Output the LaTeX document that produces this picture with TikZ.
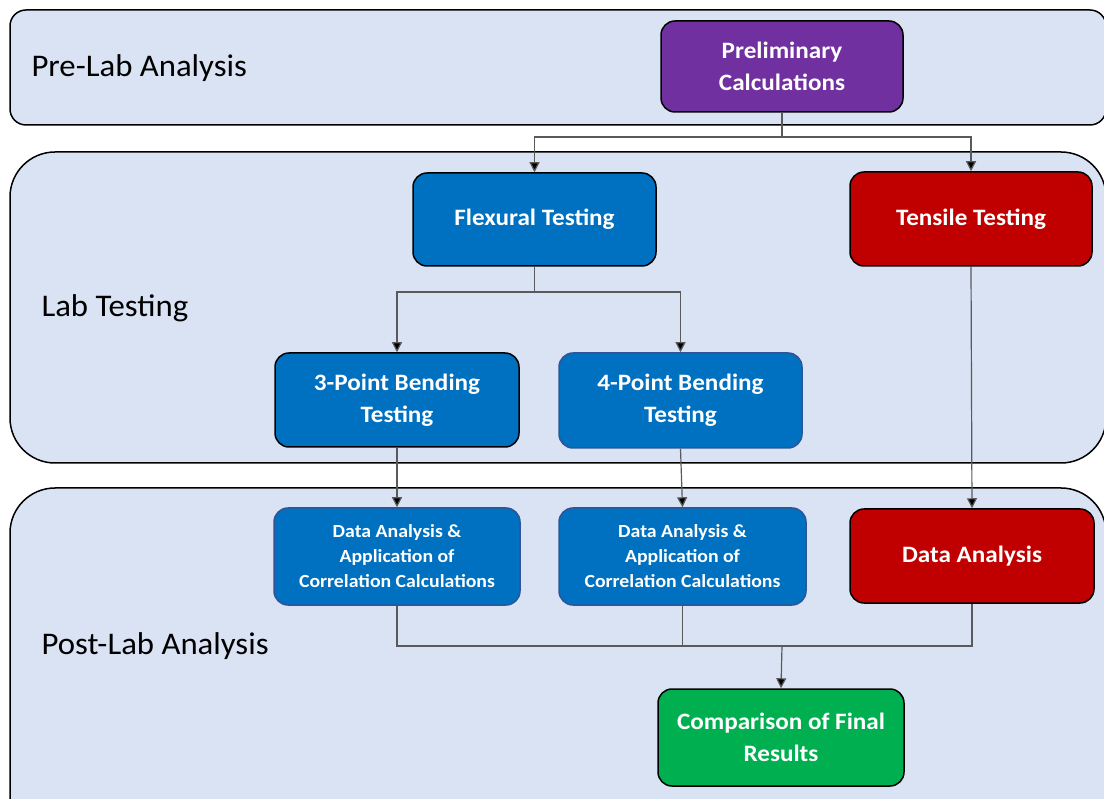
\documentclass[tikz,border=0pt]{standalone}
\usepackage{fontspec}
\setmainfont{Carlito}
\newfontfamily\widereg[FakeStretch=1.04]{Carlito}
\newfontfamily\widebold[FakeStretch=1.07]{Carlito Bold}
\usetikzlibrary{arrows.meta}
\definecolor{bandfill}{HTML}{DAE3F3}
\definecolor{cpurple}{HTML}{7030A0}
\definecolor{cblue}{HTML}{0070C0}
\definecolor{cred}{HTML}{C00000}
\definecolor{cgreen}{HTML}{00B050}
\definecolor{cblueedge}{HTML}{2F5597}
\definecolor{conn}{HTML}{5A5A5A}
\tikzset{
  band/.style={draw=black, line width=1.5pt, fill=bandfill},
  bandlabel/.style={anchor=west, font=\widereg\fontsize{31.5}{34}\selectfont},
  proc/.style={draw=black, line width=1.5pt, rounded corners=14pt, text=white,
    font=\widebold\fontsize{23.5}{32}\selectfont, align=center, inner sep=0pt},
  small/.style={font=\widebold\fontsize{18.5}{25}\selectfont},
  conline/.style={draw=conn, line width=1.2pt},
  arr/.style={conline, -{Triangle[width=10pt,length=10pt,fill=black]}},
}
\begin{document}
\begin{tikzpicture}[x=1pt,y=-1pt]
\useasboundingbox (0,0) rectangle (1104,799);
\clip (0,0) rectangle (1104,799);
% bands
\draw[band, rounded corners=16pt] (10,10) rectangle (1106,125);
\draw[band, rounded corners=45pt] (10,152) rectangle (1106,463);
\draw[band, rounded corners=45pt] (10,488) rectangle (1106,840);
\node[bandlabel] (l1) at (28,68) {Pre-Lab Analysis};
\node[bandlabel] (l2) at (38,308) {Lab Testing};
\node[bandlabel] (l3) at (38,646) {Post-Lab Analysis};
% boxes
\node[proc, fill=cpurple, minimum width=242pt, minimum height=91pt] (pre) at (782,66.5) {Preliminary\\Calculations};
\node[proc, fill=cblue, minimum width=243pt, minimum height=93pt] (flex) at (534.5,219.5) {Flexural Testing};
\node[proc, fill=cred, minimum width=242pt, minimum height=94pt] (ten) at (971,219) {Tensile Testing};
\node[proc, fill=cblue, minimum width=244pt, minimum height=94pt] (p3) at (397,400) {3-Point Bending\\Testing};
\node[proc, fill=cblue, draw=cblueedge, minimum width=243pt, minimum height=95pt] (p4) at (680.5,400.5) {4-Point Bending\\Testing};
\node[proc, small, fill=cblue, draw=cblueedge, minimum width=246pt, minimum height=97pt] (d1) at (397,556.5) {Data Analysis \&\\Application of\\Correlation Calculations};
\node[proc, small, fill=cblue, draw=cblueedge, minimum width=247pt, minimum height=97pt] (d2) at (682.5,556.5) {Data Analysis \&\\Application of\\Correlation Calculations};
\node[proc, fill=cred, minimum width=244pt, minimum height=94pt] (d3) at (972,556) {Data Analysis};
\node[proc, fill=cgreen, minimum width=246pt, minimum height=97pt] (cmp) at (781,737.5) {Comparison of Final\\Results};
% connectors
\coordinate (j1) at (782,137);
\coordinate (j2) at (534.5,292);
\coordinate (j3) at (782,646);
\draw[conline] (pre.south) -- (j1);
\draw[arr] (j1) -| (flex.north);
\draw[arr] (j1) -| (ten.north);
\draw[conline] (flex.south) -- (j2);
\draw[arr] (j2) -| (p3.north);
\draw[arr] (j2) -| (p4.north);
\draw[arr] (p3.south) -- (d1.north);
\draw[arr] (p4.south) -- (d2.north);
\draw[arr] (ten.south) -- (d3.north);
\draw[conline] (d1.south) |- (j3);
\draw[conline] (d2.south) |- (j3);
\draw[conline] (d3.south) |- (j3);
\draw[arr] (j3) -- (cmp.north);
\end{tikzpicture}
\end{document}
